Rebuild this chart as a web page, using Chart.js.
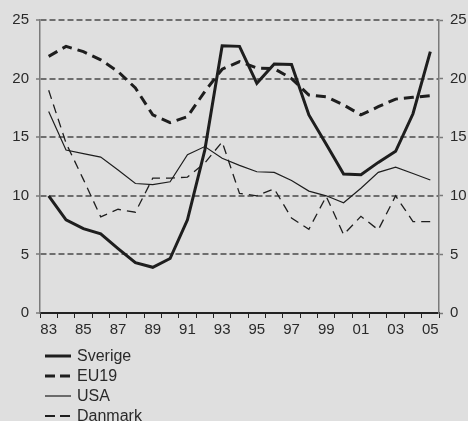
<!DOCTYPE html>
<html>
<head>
<meta charset="utf-8">
<script src="https://cdn.jsdelivr.net/npm/chart.js@4/dist/chart.umd.min.js"></script>
<style>
  html, body { margin: 0; padding: 0; background: #dfdfdf; }
  #wrap { position: relative; width: 468px; height: 421px; overflow: hidden; background: #dfdfdf; }
  #c { position: absolute; left: 0; top: 0; }
  #legend { position: absolute; left: 45px; top: 346px; font-family: "Liberation Sans", Arial, sans-serif; font-size: 16px; color: #2a2a2a; }
  .row { height: 20px; line-height: 20px; display: flex; align-items: center; white-space: nowrap; }
  .row svg { width: 26px; height: 20px; margin-right: 6px; flex: none; }
</style>
</head>
<body>
<div id="wrap">
  <canvas id="c" width="468" height="421"></canvas>
  <div id="legend"></div>
</div>
<script>
const years = ['83','84','85','86','87','88','89','90','91','92','93','94','95','96','97','98','99','00','01','02','03','04','05'];
const yTicks = [0, 5, 10, 15, 20, 25];
const seriesNames = ['Sverige', 'EU19', 'USA', 'Danmark'];
const sverige = [10.0, 7.95, 7.2, 6.75, 5.5, 4.3, 3.9, 4.65, 7.95, 13.9, 22.8, 22.75, 19.6, 21.25, 21.2, 16.9, 14.4, 11.85, 11.8, 12.85, 13.8, 17.0, 22.3];
const eu19    = [21.9, 22.75, 22.3, 21.6, 20.6, 19.2, 16.9, 16.25, 16.75, 18.9, 20.8, 21.45, 20.9, 20.85, 20.0, 18.6, 18.45, 17.75, 16.9, 17.6, 18.25, 18.4, 18.55];
const usa     = [17.2, 13.9, 13.6, 13.3, 12.2, 11.05, 10.95, 11.2, 13.5, 14.2, 13.2, 12.6, 12.05, 12.0, 11.3, 10.4, 10.0, 9.4, 10.65, 12.0, 12.45, 11.9, 11.35];
const danmark = [19.0, 14.5, 11.4, 8.2, 8.85, 8.6, 11.5, 11.5, 11.6, 12.8, 14.6, 10.2, 10.0, 10.6, 8.1, 7.15, 9.95, 6.7, 8.25, 7.1, 10.0, 7.8, 7.8];

const lineColor = '#1e1e1e';
const styles = [
  { width: 3,   dash: [] },
  { width: 3,   dash: [10, 6] },
  { width: 1.2, dash: [] },
  { width: 1.3, dash: [9, 6] }
];
const values = [sverige, eu19, usa, danmark];

const datasets = seriesNames.map((name, i) => ({
  label: name,
  data: values[i],
  borderColor: lineColor,
  backgroundColor: lineColor,
  borderWidth: styles[i].width,
  borderDash: styles[i].dash,
  pointRadius: 0,
  tension: 0,
  fill: false,
  yAxisID: 'y'
}));

const tickFont = { family: '"Liberation Sans", Arial, sans-serif', size: 15 };
const textColor = '#2a2a2a';
const gridGray = '#6e6e6e';
const axisGray = '#7a7a7a';

new Chart(document.getElementById('c'), {
  type: 'line',
  data: { labels: years, datasets: datasets },
  options: {
    responsive: false,
    animation: false,
    devicePixelRatio: 1,
    layout: { padding: { top: 20, left: 0, right: 0, bottom: 0 } },
    plugins: { legend: { display: false }, tooltip: { enabled: false } },
    scales: {
      x: {
        type: 'category',
        offset: true,
        grid: { offset: true, drawOnChartArea: false, drawTicks: true, tickLength: 5, tickColor: '#222', tickWidth: 1 },
        border: { display: true, color: '#222', width: 2 },
        ticks: {
          autoSkip: false, maxRotation: 0, minRotation: 0, padding: 3,
          color: textColor, font: tickFont,
          callback: (v, i) => (i % 2 === 0 ? years[i] : '')
        },
        afterFit: (s) => { s.height = 108; }
      },
      y: {
        position: 'left',
        min: 0, max: 25,
        afterBuildTicks: (s) => { s.ticks = yTicks.map(v => ({ value: v })); },
        grid: {
          drawOnChartArea: true, drawTicks: true, tickLength: 4, tickWidth: 1.5,
          tickColor: axisGray, lineWidth: 2,
          color: (ctx) => (ctx.tick && ctx.tick.value === 0 ? 'rgba(0,0,0,0)' : gridGray)
        },
        border: { display: true, color: axisGray, width: 1.5, dash: [6, 3] },
        ticks: { padding: 7, color: textColor, font: tickFont },
        afterFit: (s) => { s.width = 40; }
      },
      y2: {
        position: 'right',
        min: 0, max: 25,
        afterBuildTicks: (s) => { s.ticks = yTicks.map(v => ({ value: v })); },
        grid: { drawOnChartArea: false, drawTicks: true, tickLength: 4, tickWidth: 1.5, tickColor: axisGray },
        border: { display: true, color: axisGray, width: 1.5 },
        ticks: { padding: 7, color: textColor, font: tickFont },
        afterFit: (s) => { s.width = 29; }
      }
    }
  }
});

// HTML legend built from the series names and styles
const legend = document.getElementById('legend');
seriesNames.forEach((name, i) => {
  const row = document.createElement('div');
  row.className = 'row';
  const w = i === 3 ? 2 : styles[i].width;
  const dash = styles[i].dash.length ? 'stroke-dasharray="10,5"' : '';
  row.innerHTML = '<svg viewBox="0 0 26 20"><line x1="0" y1="10" x2="26" y2="10" stroke="' + lineColor + '" stroke-width="' + w + '" ' + dash + '/></svg><span></span>';
  row.querySelector('span').textContent = name;
  legend.appendChild(row);
});
</script>
</body>
</html>
